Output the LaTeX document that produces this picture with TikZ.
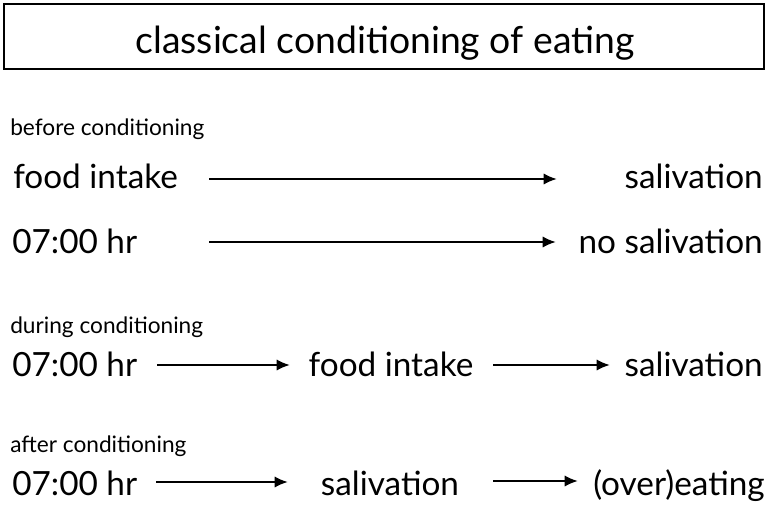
\documentclass[tikz,border=0pt]{standalone}
\usepackage{fontspec}
\setmainfont{Lato}
\usepackage{tikz}
\usetikzlibrary{arrows.meta,positioning}
\tikzset{
  txt/.style={inner sep=0pt, font=\fontsize{25}{30}\selectfont},
  lbl/.style={inner sep=0pt, font=\fontsize{17}{20}\selectfont},
  ttl/.style={inner sep=0pt, font=\fontsize{28}{33}\selectfont},
  arr/.style={-{Latex[length=10pt,width=8.5pt]}, line width=1.6pt},
  titlebox/.style={draw=black, line width=1.3pt}
}
\begin{document}
\begin{tikzpicture}[x=0.75pt, y=-0.75pt]
  \useasboundingbox (0,0) rectangle (768,504);

  % title
  \draw[titlebox] (4,4) rectangle (764,69);
  \node[ttl, anchor=base] (title) at (385,53) {classical conditioning of eating};

  % before conditioning
  \node[lbl, anchor=base west] (before) at (10,135) {before conditioning};
  \node[txt, anchor=base west] (food1) at (13,188) {food intake};
  \node[txt, anchor=base east] (sal1) at (763,188) {salivation};
  \node[txt, anchor=base west] (hr2) at (12,253) {07:00 hr};
  \node[txt, anchor=base east] (nosal2) at (763,253) {no salivation};
  \coordinate (a1s) at (209,179);
  \coordinate (a1e) at (557,179);
  \coordinate (a2s) at (209,242);
  \coordinate (a2e) at (556,242);
  \draw[arr] (a1s) -- (a1e);
  \draw[arr] (a2s) -- (a2e);

  % during conditioning
  \node[lbl, anchor=base west] (during) at (10,333) {during conditioning};
  \node[txt, anchor=base west] (hr3) at (12,376) {07:00 hr};
  \node[txt, anchor=base] (food3) at (391,376) {food intake};
  \node[txt, anchor=base east] (sal3) at (763,376) {salivation};
  \coordinate (a3s) at (157,365);
  \coordinate (a3e) at (290,365);
  \coordinate (a4s) at (493,365);
  \coordinate (a4e) at (610,365);
  \draw[arr] (a3s) -- (a3e);
  \draw[arr] (a4s) -- (a4e);

  % after conditioning
  \node[lbl, anchor=base west] (after) at (10,452) {after conditioning};
  \node[txt, anchor=base west] (hr4) at (12,495) {07:00 hr};
  \node[txt, anchor=base] (sal4) at (390,495) {salivation};
  \node[txt, anchor=base east] (eat4) at (765,495) {(over)eating};
  \coordinate (a5s) at (156,482);
  \coordinate (a5e) at (288,482);
  \coordinate (a6s) at (493,481);
  \coordinate (a6e) at (578,481);
  \draw[arr] (a5s) -- (a5e);
  \draw[arr] (a6s) -- (a6e);
\end{tikzpicture}
\end{document}
